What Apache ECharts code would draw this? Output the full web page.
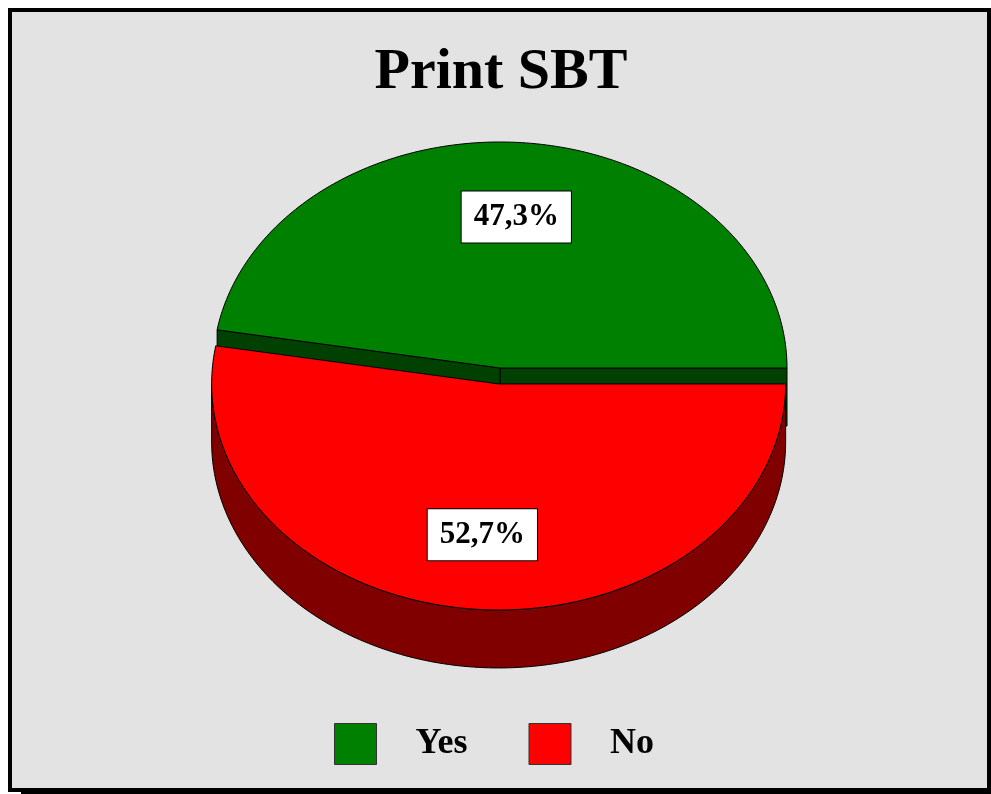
<!DOCTYPE html>
<html>
<head>
<meta charset="utf-8">
<script src="https://cdn.jsdelivr.net/npm/echarts@6/dist/echarts.min.js"></script>
<style>
html, body { margin: 0; padding: 0; background: #fff; }
#show { width: 991px; height: 794px; }
</style>
</head>
<body>
<div id="show"></div>
<script>
// data
var categories = ['Yes', 'No'];
var values = [47.3, 52.7];
var topColors = ['#008000', '#ff0000'];
var sideColors = ['#004000', '#800000'];
var explode = [0, 16];

// pie layout
var cx = 500, cy = 368, rx = 287, ry = 226, depth = 58;

var myEchart = echarts.init(document.getElementById('show'));

var total = 0;
for (var i = 0; i < values.length; i++) total += values[i];

function pt(a, ox, oy, dy) {
	return [cx + ox + rx * Math.cos(a), cy + oy - ry * Math.sin(a) + (dy || 0)];
}

function arc(a0, a1, ox, oy, dy) {
	var pts = [];
	var n = Math.max(2, Math.ceil((a1 - a0) / (Math.PI / 180)));
	for (var k = 0; k <= n; k++) {
		pts.push(pt(a0 + (a1 - a0) * k / n, ox, oy, dy));
	}
	return pts;
}

function makeRender(idx) {
	return function(params, api) {
		var start = 0;
		for (var j = 0; j < idx; j++) start += values[j] / total * Math.PI * 2;
		var end = start + values[idx] / total * Math.PI * 2;
		var mid = (start + end) / 2;
		var ox = explode[idx] * Math.cos(mid);
		var oy = -explode[idx] * Math.sin(mid);
		var c = [cx + ox, cy + oy];
		var children = [];

		// radial walls
		if (Math.cos(start) > 0) {
			var p = pt(start, ox, oy);
			children.push({ type: 'polygon', shape: { points: [c, p, [p[0], p[1] + depth], [c[0], c[1] + depth]] },
				style: { fill: sideColors[idx], stroke: '#000', lineWidth: 1 } });
		}
		if (Math.cos(end) < 0) {
			var q = pt(end, ox, oy);
			children.push({ type: 'polygon', shape: { points: [c, q, [q[0], q[1] + depth], [c[0], c[1] + depth]] },
				style: { fill: sideColors[idx], stroke: '#000', lineWidth: 1 } });
		}
		// outer wall (front half only)
		var s0 = Math.max(start, Math.PI), s1 = Math.min(end, Math.PI * 2);
		if (s1 > s0) {
			var top = arc(s0, s1, ox, oy, 0);
			var bot = arc(s0, s1, ox, oy, depth).reverse();
			children.push({ type: 'polygon', shape: { points: top.concat(bot) },
				style: { fill: sideColors[idx], stroke: '#000', lineWidth: 1 } });
		}
		// top face
		children.push({ type: 'polygon', shape: { points: [c].concat(arc(start, end, ox, oy, 0)) },
			style: { fill: topColors[idx], stroke: '#000', lineWidth: 1 } });
		// label
		var lp = [c[0] + rx * 0.67 * Math.cos(mid), c[1] - ry * 0.67 * Math.sin(mid)];
		var pct = (values[idx] / total * 100).toFixed(1).replace('.', ',') + '%';
		children.push({ type: 'text', style: {
			text: pct, x: lp[0], y: lp[1], align: 'center', verticalAlign: 'middle',
			font: 'bold 31px "Liberation Serif"', fill: '#000',
			backgroundColor: '#fff', borderColor: '#000', borderWidth: 1, padding: [10, 12]
		} });
		return { type: 'group', children: children };
	};
}

var seriesData = [];
for (var i = 0; i < categories.length; i++) {
	seriesData.push({
		name: categories[i],
		type: 'custom',
		coordinateSystem: 'none',
		itemStyle: { color: topColors[i] },
		renderItem: makeRender(i),
		data: [values[i]]
	});
}

var option = {
	backgroundColor: '#fff',
	animation: false,
	title: {
		text: 'Print SBT',
		left: 496,
		textAlign: 'center',
		top: 39,
		textStyle: { fontFamily: 'Liberation Serif', fontWeight: 'bold', fontSize: 58, color: '#000' }
	},
	legend: {
		data: categories,
		left: 334,
		top: 723,
		padding: 0,
		icon: 'rect',
		itemWidth: 42,
		itemHeight: 41,
		itemGap: 61,
		itemStyle: { borderColor: '#333', borderWidth: 1 },
		textStyle: { fontFamily: 'Liberation Serif', fontWeight: 'bold', fontSize: 36, color: '#000', padding: [0, 0, 0, 34] }
	},
	graphic: [
		{ type: 'rect', z: -20, shape: { x: 21, y: 21, width: 1000, height: 800 }, style: { fill: '#000' } },
		{ type: 'rect', z: -10, shape: { x: 10, y: 10, width: 979, height: 780 }, style: { fill: '#e3e3e3', stroke: '#000', lineWidth: 4 } }
	],
	series: seriesData
};

myEchart.setOption(option);
</script>
</body>
</html>
